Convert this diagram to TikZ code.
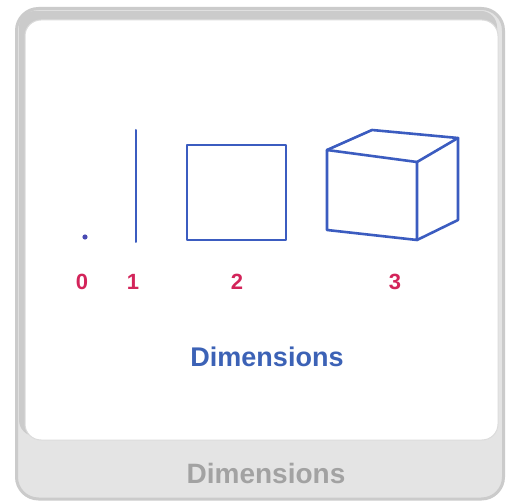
\documentclass[tikz,border=0pt]{standalone}
\usepackage{fontspec}
\newfontfamily\cardfont{Liberation Sans}
\usetikzlibrary{positioning}
\definecolor{shapeblue}{HTML}{3B5CC0}
\definecolor{titleblue}{HTML}{3C62B6}
\definecolor{numred}{HTML}{D3245A}
\definecolor{rimgray}{HTML}{CBCBCB}
\definecolor{cardgray}{HTML}{E4E4E4}
\definecolor{footgray}{HTML}{A2A2A2}
\tikzset{
  card/.style={draw=rimgray, fill=cardgray, line width=3pt, rounded corners=22pt},
  panel/.style={draw=rimgray!70, fill=white, line width=1pt, rounded corners=16pt},
  fig/.style={draw=shapeblue, line width=2.6pt, line join=round, line cap=round},
  numlabel/.style={text=numred, font=\cardfont\bfseries\fontsize{22}{24}\selectfont, inner sep=0pt},
  title/.style={text=titleblue, font=\cardfont\bfseries\fontsize{27}{30}\selectfont, inner sep=0pt},
  footer/.style={text=footgray, font=\cardfont\bfseries\fontsize{28}{30}\selectfont, inner sep=0pt}
}

\begin{document}
\begin{tikzpicture}[x=1pt,y=-1pt]
  \useasboundingbox (0,0) rectangle (506,502);
  % card and white panel
  \draw[card] (16.5,8.5) rectangle (503.5,499);
  \fill[rimgray, rounded corners=16pt] (19,11) rectangle (497,436);
  \draw[panel] (25,20) rectangle (498,440);

  % dimension 0..3
  \fill[shapeblue!80!violet] (85,237) circle (2.6pt);
  \draw[fig, line width=2pt] (136,130) -- (136,242);
  \draw[fig] (187,145) rectangle (286,240);
  \draw[fig] (327,150) -- (417,162) -- (417,240) -- (327,230) -- cycle;
  \draw[fig] (327,150) -- (372,130) -- (458,138) -- (417,162);
  \draw[fig] (458,138) -- (458,220) -- (417,240);

  \node[numlabel] (zero) at (82,282) {0};
  \node[numlabel] (one) at (133,282) {1};
  \node[numlabel] (two) at (237,282) {2};
  \node[numlabel] (three) at (395,282) {3};

  \node[title] (caption) at (267,357) {Dimensions};
  \node[footer] (tab) at (266,473) {Dimensions};
\end{tikzpicture}
\end{document}
